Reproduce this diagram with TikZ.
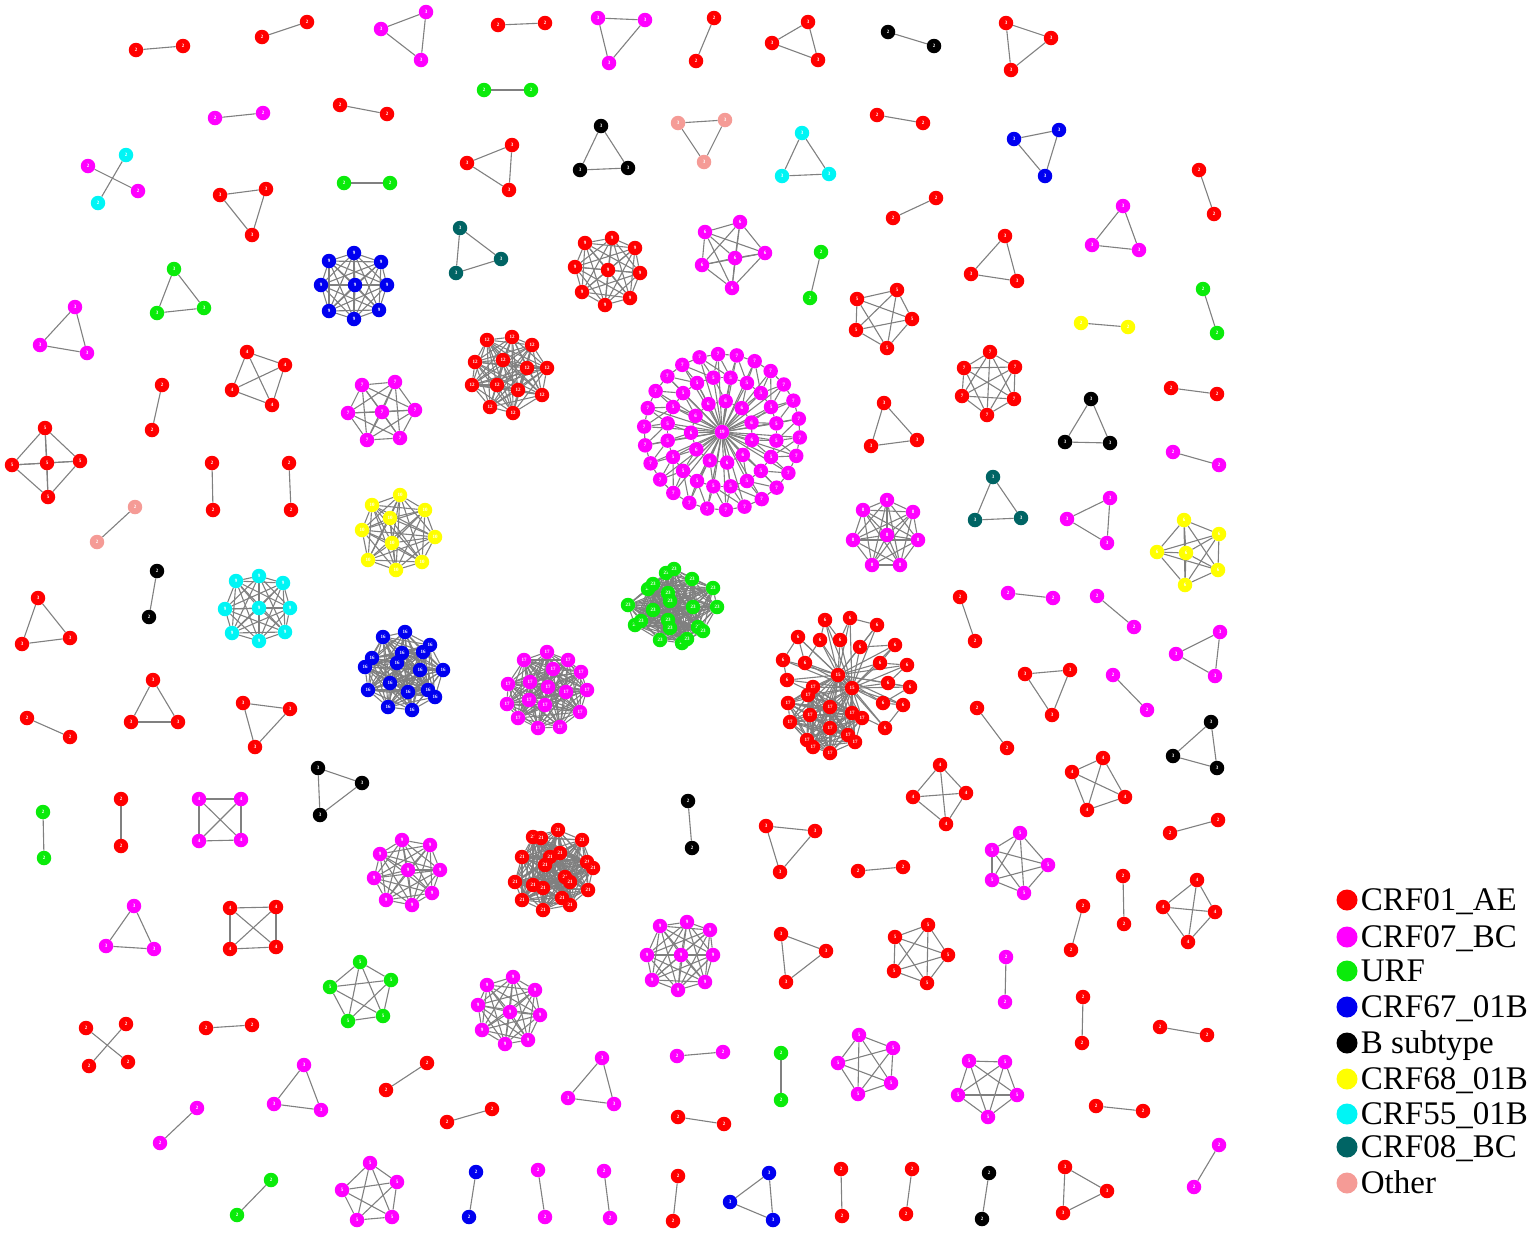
\documentclass[tikz,border=0pt]{standalone}
\usepackage{fontspec}
\setmainfont{Liberation Serif}
\usepackage{tikz}
\usetikzlibrary{positioning}
\usetikzlibrary{calc}
\usepackage{xcolor}

\definecolor{crfae}{RGB}{255,0,0}
\definecolor{crfbc}{RGB}{255,0,255}
\definecolor{urf}{RGB}{10,235,10}
\definecolor{crfsix}{RGB}{0,0,240}
\definecolor{crfeight}{RGB}{255,255,0}
\definecolor{crffive}{RGB}{0,245,245}
\definecolor{crfzero}{RGB}{0,100,100}
\definecolor{other}{RGB}{245,155,150}
\definecolor{edgegray}{RGB}{128,128,128}

\pgfdeclarelayer{background}
\pgfsetlayers{background,main}

% complete cluster: name, style, label, x/y list
\newcommand{\knet}[4]{%
  \foreach \x/\y [count=\i] in {#4} {\node[#2] (#1-\i) at (\x,\y) {#3}; \xdef\knetn{\i}}
  \begin{pgfonlayer}{background}
    \foreach \i in {1,...,\knetn} \foreach \j in {\i,...,\knetn} {\ifnum\j>\i \draw[link] (#1-\i) -- (#1-\j);\fi}
  \end{pgfonlayer}}

\begin{document}
\begin{tikzpicture}[x=1pt,y=-1pt,
  nd/.style={circle,inner sep=0pt,minimum size=14.5pt,text=white,font=\fontsize{5}{5}\selectfont\bfseries},
  rd/.style={nd,fill=crfae}, mg/.style={nd,fill=crfbc}, gn/.style={nd,fill=urf},
  bl/.style={nd,fill=crfsix}, bk/.style={nd,fill=black}, yl/.style={nd,fill=crfeight},
  cy/.style={nd,fill=crffive}, tl/.style={nd,fill=crfzero}, ot/.style={nd,fill=other},
  link/.style={draw=edgegray,line width=1.1pt},
  legdot/.style={circle,inner sep=0pt,minimum size=21pt},
  legtext/.style={font=\fontsize{33}{33}\selectfont,inner sep=0pt,text height=21.5pt,text depth=0pt}]

\useasboundingbox (0,0) rectangle (1535,1235);

% top rows
\knet{p1}{rd}{2}{136/50,183/46}
\knet{p2}{rd}{2}{262/37,307/22}
\knet{t1}{mg}{3}{381/29,426/12,421/60}
\knet{p3}{rd}{2}{498/25,545/23}
\knet{t2}{mg}{3}{598/18,645/20,609/63}
\knet{p4}{rd}{2}{714/18,696/61}
\knet{t3}{rd}{3}{772/43,808/22,818/60}
\knet{p5}{bk}{2}{888/32,934/46}
\knet{t4}{rd}{3}{1006/23,1051/38,1011/70}
\knet{p6}{gn}{2}{484/90,531/90}
\knet{p7}{mg}{2}{215/118,263/113}
\knet{p8}{rd}{2}{340/105,387/114}
\knet{t5}{bk}{3}{601/126,580/170,628/168}
\knet{t6}{ot}{3}{678/123,725/120,704/162}
\knet{t7}{cy}{3}{802/133,782/176,829/174}
\knet{p9}{rd}{2}{877/115,923/123}
\knet{t8}{bl}{3}{1014/139,1059/130,1045/176}
\knet{t9}{rd}{3}{467/163,512/145,509/190}

\node[mg] (x1-1) at (88,166) {2};
\node[cy] (x1-2) at (126,155) {2};
\node[mg] (x1-3) at (138,191) {2};
\node[cy] (x1-4) at (98,203) {2};
\begin{pgfonlayer}{background}
\draw[link] (x1-1) -- (x1-3);
\draw[link] (x1-2) -- (x1-4);
\end{pgfonlayer}

\knet{p10}{gn}{2}{344/183,390/183}
\knet{t10}{rd}{3}{220/195,266/189,252/235}
\knet{p11}{rd}{2}{893/218,936/198}
\knet{p12}{rd}{2}{1199/170,1214/214}
\knet{t11}{mg}{3}{1123/206,1092/245,1139/250}
\knet{t12}{tl}{3}{460/228,501/259,456/273}
\knet{c1}{bl}{9}{354/253,381/262,387/285,379/310,354/319,329/311,321/285,329/261,355/285}
\knet{c2}{rd}{9}{585/243,612/238,635/248,575/267,608/270,640/273,582/292,605/305,630/298}
\knet{c3}{mg}{6}{705/232,740/222,765/253,735/258,702/265,732/288}
\knet{p13}{gn}{2}{821/252,810/298}
\knet{t13}{rd}{3}{1005/236,971/274,1017/281}
\knet{p14}{gn}{2}{1203/289,1217/333}
\knet{t14}{gn}{3}{174/269,157/313,204/308}
\knet{t15}{mg}{3}{75/307,40/345,87/353}
\knet{c4}{rd}{5}{857/299,897/290,912/319,887/348,856/330}
\knet{p15}{yl}{2}{1081/323,1128/327}
\knet{c5}{rd}{4}{247/352,285/365,272/405,232/390}
\knet{p16}{rd}{2}{162/385,152/430}
\knet{c6}{rd}{12}{487/340,512/337,532/345,475/362,503/360,527/368,547/368,472/385,497/385,518/390,542/395,490/407,513/413}
\knet{c7}{mg}{7}{362/385,395/382,415/410,382/412,348/413,367/440,400/438}

% large star
\node[mg] (hub) at (722,432) {19};
\foreach \k in {1,...,26} \node[mg] (sa\k) at ($(722,432)+(\k*13.846+4:78)$) {7};
\foreach \k in {1,...,20} \node[mg] (sb\k) at ($(722,432)+(\k*18+9:55)$) {5};
\foreach \k in {1,...,11} \node[mg] (sc\k) at ($(722,432)+(\k*32.73+15:31)$) {6};
\begin{pgfonlayer}{background}
\foreach \k in {1,...,26} \draw[link] (hub) -- (sa\k);
\foreach \k in {1,...,20} \draw[link] (hub) -- (sb\k);
\foreach \k in {1,...,11} \draw[link] (hub) -- (sc\k);
\foreach \k [remember=\k as \l (initially 26)] in {1,...,26} \draw[link] (sa\l) -- (sa\k);
\foreach \k [remember=\k as \l (initially 20)] in {1,...,20} \draw[link] (sb\l) -- (sb\k);
\foreach \k [remember=\k as \l (initially 11)] in {1,...,11} \draw[link] (sc\l) -- (sc\k);
\foreach \k in {1,...,26} {
  \pgfmathtruncatemacro\m{mod(round((\k*13.846-5)/18)+19,20)+1}
  \pgfmathtruncatemacro\n{mod(\m,20)+1}
  \draw[link] (sa\k) -- (sb\m);
  \draw[link] (sa\k) -- (sb\n);}
\foreach \k in {1,...,20} {
  \pgfmathtruncatemacro\m{mod(round((\k*18-6)/32.73)+10,11)+1}
  \draw[link] (sb\k) -- (sc\m);}
\end{pgfonlayer}

\knet{c8}{rd}{7}{964/368,990/352,1015/367,1014/399,987/415,962/396}
\knet{t16}{bk}{3}{1091/399,1065/442,1110/443}
\knet{p17}{rd}{2}{1171/388,1217/394}
\knet{c9}{rd}{5}{45/428,12/465,47/463,80/461,48/497}
\knet{p18}{rd}{2}{212/463,213/510}
\knet{p19}{rd}{2}{289/463,291/510}
\knet{t17}{rd}{3}{884/403,871/446,917/440}
\knet{p20}{mg}{2}{1173/452,1219/465}
\knet{t18}{tl}{3}{993/477,975/520,1021/518}
\knet{c10}{mg}{8}{863/510,887/500,913/512,918/540,900/565,872/565,853/540,887/535}
\knet{t19}{mg}{3}{1110/498,1067/519,1107/543}
\knet{c11}{yl}{6}{1184/520,1219/534,1218/570,1185/585,1157/552,1186/553}
\knet{p21}{ot}{2}{135/507,97/542}
\knet{c12}{yl}{10}{372/505,400/495,425/510,435/537,422/562,396/570,368/560,362/530,390/518,392/543}
\knet{p22}{bk}{2}{157/571,149/617}
\knet{c13}{cy}{9}{236/581,259/576,283/583,290/608,285/632,259/641,232/633,225/609,259/608}
\knet{t20}{rd}{3}{38/598,22/644,70/638}
\knet{p23}{rd}{2}{960/597,975/641}
\knet{p24}{mg}{2}{1008/593,1053/598}
\knet{p25}{mg}{2}{1097/596,1134/627}
\knet{t21}{mg}{3}{1220/632,1176/654,1215/676}

% dense clusters
\knet{c14}{gn}{23}{666/573,674/569,692/579,648/589,653/584,713/588,628/605,668/593,670/601,717/607,653/610,693/607,668/620,670/628,635/625,641/621,698/627,703/631,660/640,682/643,687/639}
\knet{c15}{bl}{16}{383/637,405/632,430/645,423/652,372/658,402/653,397/663,365/667,420/670,443/670,390/683,368/690,408/692,428/690,435/697,388/707,412/710}
\knet{c16}{mg}{17}{524/660,547/652,568/660,581/672,587/690,580/712,560/727,538/728,518/718,507/704,508/684,530/682,553/669,566/692,545/705,548/687,529/700}

% large red cluster
\node[rd] (rh1) at (838,675) {15};
\node[rd] (rh2) at (852,688) {15};
\foreach \x/\y [count=\i] in {783/660,798/637,805/663,820/640,825/620,840/640,850/618,877/625,860/647,895/645,880/663,907/665,888/683,910/687,883/703,903/705,885/728,787/680}
  \node[rd] (ra\i) at (\x,\y) {6};
\knet{rb}{rd}{17}{813/687,808/695,788/703,790/722,810/715,830/707,852/713,862/718,830/728,807/740,813/747,830/753,848/735,855/742}
\begin{pgfonlayer}{background}
\foreach \i in {1,...,18} {\draw[link] (rh1) -- (ra\i); \draw[link] (rh2) -- (ra\i);}
\foreach \i in {1,...,14} {\draw[link] (rh1) -- (rb-\i); \draw[link] (rh2) -- (rb-\i);}
\foreach \i [remember=\i as \l (initially 18)] in {1,...,18} \draw[link] (ra\l) -- (ra\i);
\draw[link] (rh1) -- (rh2);
\end{pgfonlayer}

\knet{t22}{rd}{3}{1025/674,1070/670,1052/715}
\knet{p26}{mg}{2}{1113/675,1147/710}
\knet{p27}{rd}{2}{27/718,70/737}
\knet{t23}{rd}{3}{153/680,131/722,178/722}
\knet{t24}{rd}{3}{243/703,290/709,255/747}
\knet{p28}{rd}{2}{977/708,1007/748}
\knet{t25}{bk}{3}{1211/722,1173/756,1217/768}
\knet{t26}{bk}{3}{318/768,362/783,320/815}
\knet{p29}{gn}{2}{43/812,44/858}
\knet{p30}{rd}{2}{121/799,121/846}
\knet{q1}{mg}{4}{199/799,241/799,241/840,199/841}
\knet{p31}{bk}{2}{688/801,692/848}
\knet{q2}{rd}{4}{940/765,966/793,946/824,913/797}
\knet{q3}{rd}{4}{1103/758,1125/797,1087/810,1072/772}
\knet{c17}{mg}{9}{380/854,402/840,430/845,440/870,432/893,412/905,386/900,374/878,408/870}
\knet{c18}{rd}{21}{558/830,533/837,541/838,582/840,522/857,550/857,560/853,545/865,587/862,593/868,565/877,570/882,515/882,533/885,543/888,588/890,522/900,562/898,570/905,543/910}
\knet{t27}{rd}{3}{766/826,815/831,780/872}
\knet{p32}{rd}{2}{858/871,903/867}
\knet{c19}{mg}{5}{1020/833,1048/865,1024/893,992/880,992/850}
\knet{p33}{rd}{2}{1170/833,1218/820}
\knet{t28}{mg}{3}{134/906,106/946,154/949}
\knet{q4}{rd}{4}{230/908,276/907,276/947,230/949}
\knet{c20}{mg}{9}{660/926,687/922,710/930,713/955,705/982,678/990,652/980,647/955,681/955}
\knet{t29}{rd}{3}{781/934,826/951,786/982}
\knet{c21}{rd}{5}{895/937,928/925,948/955,927/983,894/971}
\knet{p34}{rd}{2}{1083/906,1071/950}
\knet{p35}{rd}{2}{1123/876,1124/924}
\knet{q5}{rd}{4}{1197/880,1163/907,1215/912,1188/942}
\knet{p36}{mg}{2}{1006/957,1005/1002}
\knet{c22}{gn}{5}{360/962,391/980,383/1016,348/1021,330/987}
\knet{c23}{mg}{9}{487/985,513/977,535/990,540/1015,528/1040,505/1044,482/1030,478/1005,510/1012}

\node[rd] (x2-1) at (86,1028) {2};
\node[rd] (x2-2) at (126,1024) {2};
\node[rd] (x2-3) at (128,1062) {2};
\node[rd] (x2-4) at (89,1066) {2};
\begin{pgfonlayer}{background}
\draw[link] (x2-1) -- (x2-3);
\draw[link] (x2-2) -- (x2-4);
\end{pgfonlayer}

\knet{p37}{rd}{2}{206/1028,252/1025}
\knet{p38}{rd}{2}{1083/997,1082/1043}
\knet{p39}{rd}{2}{1160/1027,1207/1035}
\knet{c24}{mg}{5}{859/1035,893/1048,891/1083,858/1094,838/1063}
\knet{c25}{mg}{5}{969/1061,1005/1062,1017/1095,988/1117,958/1095}
\knet{t30}{mg}{3}{304/1065,274/1104,321/1110}
\knet{p40}{rd}{2}{427/1063,386/1090}
\knet{t31}{mg}{3}{602/1058,568/1098,614/1104}
\knet{p41}{mg}{2}{677/1056,723/1052}
\knet{p42}{gn}{2}{781/1053,781/1100}
\knet{p43}{mg}{2}{197/1108,160/1143}
\knet{p44}{rd}{2}{492/1109,447/1122}
\knet{p45}{rd}{2}{678/1117,724/1124}
\knet{p46}{rd}{2}{1096/1106,1143/1111}
\knet{p47}{gn}{2}{271/1180,237/1215}
\knet{c26}{mg}{5}{370/1163,397/1182,392/1217,357/1220,342/1190}
\knet{p48}{bl}{2}{476/1172,469/1217}
\knet{p49}{mg}{2}{538/1170,545/1217}
\knet{p50}{mg}{2}{604/1171,610/1218}
\knet{p51}{rd}{2}{678/1176,673/1221}
\knet{t32}{bl}{3}{769/1173,730/1202,773/1220}
\knet{p52}{rd}{2}{841/1169,842/1216}
\knet{p53}{rd}{2}{912/1169,906/1214}
\knet{p54}{bk}{2}{989/1173,982/1219}
\knet{t33}{rd}{3}{1065/1167,1107/1191,1063/1213}
\knet{p55}{mg}{2}{1219/1145,1194/1187}

% legend
\node[legdot,fill=crfae] (ld1) at (1347,900) {};
\node[legtext,right=3pt of ld1] (lt1) {CRF01\_AE};
\node[legdot,fill=crfbc] (ld2) at (1347,937) {};
\node[legtext,right=3pt of ld2] (lt2) {CRF07\_BC};
\node[legdot,fill=urf] (ld3) at (1347,971) {};
\node[legtext,right=3pt of ld3] (lt3) {URF};
\node[legdot,fill=crfsix] (ld4) at (1347,1007) {};
\node[legtext,right=3pt of ld4] (lt4) {CRF67\_01B};
\node[legdot,fill=black] (ld5) at (1347,1043) {};
\node[legtext,right=3pt of ld5] (lt5) {B subtype};
\node[legdot,fill=crfeight] (ld6) at (1347,1079) {};
\node[legtext,right=3pt of ld6] (lt6) {CRF68\_01B};
\node[legdot,fill=crffive] (ld7) at (1347,1114) {};
\node[legtext,right=3pt of ld7] (lt7) {CRF55\_01B};
\node[legdot,fill=crfzero] (ld8) at (1347,1147) {};
\node[legtext,right=3pt of ld8] (lt8) {CRF08\_BC};
\node[legdot,fill=other] (ld9) at (1347,1183) {};
\node[legtext,right=3pt of ld9] (lt9) {Other};

\end{tikzpicture}
\end{document}
